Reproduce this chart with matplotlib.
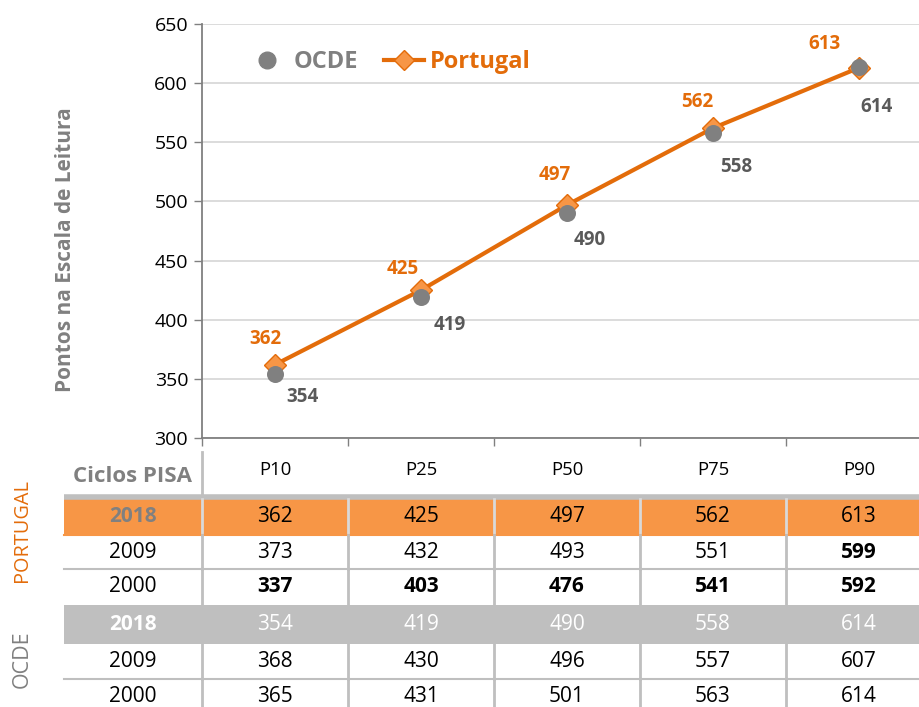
import matplotlib.pyplot as plt
from matplotlib.lines import Line2D
import numpy as np

plt.rcParams['font.family'] = ['Open Sans', 'DejaVu Sans']

# data
percentis = ['P10', 'P25', 'P50', 'P75', 'P90']
ocde_2018 = [354, 419, 490, 558, 614]
portugal_2018 = [362, 425, 497, 562, 613]

anos = ['2018', '2009', '2000', '2018', '2009', '2000']
tabela = [
    [362, 425, 497, 562, 613],   # Portugal 2018
    [373, 432, 493, 551, 599],   # Portugal 2009
    [337, 403, 476, 541, 592],   # Portugal 2000
    [354, 419, 490, 558, 614],   # OCDE 2018
    [368, 430, 496, 557, 607],   # OCDE 2009
    [365, 431, 501, 563, 614],   # OCDE 2000
]
# which cells are bold in the table
negrito = [
    [False] * 5,
    [False, False, False, False, True],
    [True] * 5,
    [False] * 5,
    [False] * 5,
    [False] * 5,
]

# label offsets in pixels (placed by hand in the original)
off_pt = [(-10, 26), (-18, 21), (-12, 30), (-16, 26), (-34, 24)]
off_oc = [(27, -23), (29, -28), (23, -27), (23, -34), (18, -40)]

ORANGE = '#E36C0A'
ORANGE_FILL = '#F79646'
GREY = '#808080'
DARK_GREY = '#595959'
LIGHT_GREY = '#BFBFBF'
GRID = '#D9D9D9'

W, H = 920, 707
fig = plt.figure(figsize=(W / 100, H / 100), dpi=100)

# chart area in pixels: x 202..932 (cut at figure edge), y 24..438
ax_left = 202 / W
ax_width = 730 / W
ax = fig.add_axes([ax_left, (H - 438) / H, ax_width, (438 - 24) / H])

x = np.arange(len(percentis))
ax.set_xlim(-0.5, len(percentis) - 0.5)
ax.set_ylim(300, 650)
ax.set_yticks(np.arange(300, 651, 50))
ax.yaxis.grid(True, color=GRID, linewidth=1.3)
ax.set_axisbelow(True)
ax.set_xticks(np.arange(-0.5, len(percentis), 1))
ax.set_xticklabels([])
ax.tick_params(axis='x', length=6, color=GREY, width=1)
ax.tick_params(axis='y', length=6, color=GREY, width=1, labelsize=14, pad=4)
for s in ['top', 'right']:
    ax.spines[s].set_visible(False)
for s in ['left', 'bottom']:
    ax.spines[s].set_color(GREY)
    ax.spines[s].set_linewidth(1.3)

ax.plot(x, portugal_2018, color=ORANGE, linewidth=3, marker='D', markersize=11,
        markerfacecolor=ORANGE_FILL, markeredgecolor=ORANGE, markeredgewidth=1, zorder=3)
ax.scatter(x, ocde_2018, s=150, color=GREY, zorder=4, linewidths=0)

for xi, v, o in zip(x, portugal_2018, off_pt):
    ax.annotate(str(v), (xi, v), xytext=o, textcoords='offset pixels',
                ha='center', va='center', color=ORANGE, fontsize=13.5, fontweight='bold')
for xi, v, o in zip(x, ocde_2018, off_oc):
    ax.annotate(str(v), (xi, v), xytext=o, textcoords='offset pixels',
                ha='center', va='center', color=DARK_GREY, fontsize=13.5, fontweight='bold')

ax.set_ylabel('Pontos na Escala de Leitura', fontsize=15, fontweight='bold', color=GREY)
ax.yaxis.set_label_coords(-0.172, 0.454)

handles = [
    Line2D([], [], linestyle='none', marker='o', markersize=12, color=GREY),
    Line2D([], [], color=ORANGE, linewidth=3, marker='D', markersize=10,
           markerfacecolor=ORANGE_FILL, markeredgecolor=ORANGE),
]
leg = ax.legend(handles, ['OCDE', 'Portugal'], loc='center left', ncol=2,
                bbox_to_anchor=(0.046, 1 - 38 / 414), frameon=False,
                prop={'weight': 'bold', 'size': 17}, handlelength=1.7,
                columnspacing=1.1, handletextpad=0.25, borderpad=0)
for txt, c in zip(leg.get_texts(), [GREY, ORANGE]):
    txt.set_color(c)

# table below, same column scale as the chart; y in pixel units
tb = fig.add_axes([ax_left, 0, ax_width, (H - 440) / H])
tb.set_xlim(-0.5, len(percentis) - 0.5)
tb.set_ylim(H, 440)
tb.axis('off')

col_w = 146
x0 = -0.5 - (202 - 64) / col_w   # left edge of the year column
x_end = -0.5 + (920 - 202) / col_w
row_tops = [499, 535, 569, 605, 644, 679]
row_bots = [535, 569, 605, 644, 679, 714]

# header
for xi, p in zip(x, percentis):
    tb.text(xi, 470, p, ha='center', va='center', fontsize=13.3, color='black')
tb.text((x0 - 0.5) / 2, 477, 'Ciclos PISA', ha='center', va='center',
        fontsize=16, fontweight='bold', color=GREY, clip_on=False)
tb.plot([-0.5, -0.5], [452, 497], color=LIGHT_GREY, lw=2, clip_on=False)
tb.plot([x0, x_end], [497, 497], color=LIGHT_GREY, lw=4, clip_on=False,
        solid_capstyle='butt')

for i, (top, bot) in enumerate(zip(row_tops, row_bots)):
    if i == 0:
        tb.fill_between([x0, x_end], top, bot, color=ORANGE_FILL, lw=0, clip_on=False)
    elif i == 3:
        tb.fill_between([x0, x_end], top, bot, color=LIGHT_GREY, lw=0, clip_on=False)
    yc = (top + bot) / 2
    if i == 0:
        ycol, vcol, ywt = GREY, 'black', 'bold'
    elif i == 3:
        ycol, vcol, ywt = 'white', 'white', 'bold'
    else:
        ycol, vcol, ywt = 'black', 'black', 'normal'
    tb.text((x0 - 0.5) / 2, yc, anos[i], ha='center', va='center', fontsize=15,
            color=ycol, fontweight=ywt, clip_on=False)
    for j, v in enumerate(tabela[i]):
        tb.text(x[j], yc, str(v), ha='center', va='center', fontsize=15,
                color=vcol, fontweight='bold' if negrito[i][j] else 'normal')
    # vertical separators
    if i != 3:
        for b in np.arange(-0.5, len(percentis) - 0.5, 1):
            tb.plot([b, b], [top, bot], color=LIGHT_GREY if i != 0 else '#D9D9D9',
                    lw=2, clip_on=False)
    if i in (0, 1, 4):
        lc = ORANGE_FILL if i == 0 else LIGHT_GREY
        tb.plot([x0, x_end], [bot, bot], color=lc, lw=1.5, clip_on=False)

# group labels
fig.text(22 / W, 1 - 530 / H, 'PORTUGAL', rotation=90, ha='center', va='center',
         fontsize=14.3, color=ORANGE)
fig.text(22 / W, 1 - 659 / H, 'OCDE', rotation=90, ha='center', va='center',
         fontsize=15.5, color=GREY)

fig.savefig('out.png', dpi=100)
